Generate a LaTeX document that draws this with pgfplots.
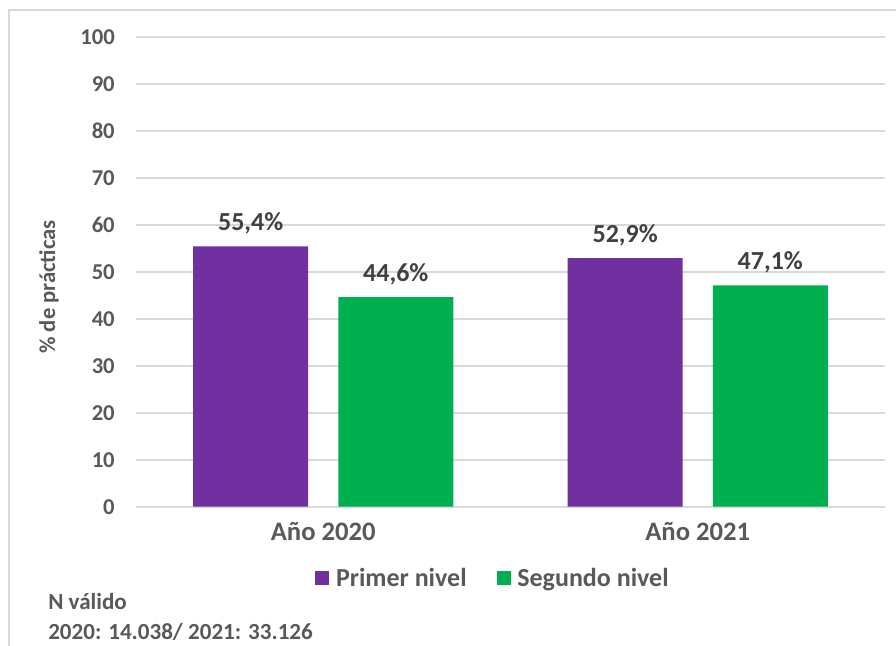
\documentclass[border=0pt]{standalone}
\usepackage{pgfplots}
\pgfplotsset{compat=1.18}
\usepackage{fontspec}
\setmainfont{Carlito}
\definecolor{prim}{HTML}{7030A0}
\definecolor{seg}{HTML}{00B050}
\definecolor{txt}{HTML}{595959}
\definecolor{lbl}{HTML}{404040}
\definecolor{gridc}{HTML}{D9D9D9}
\begin{document}
\begin{tikzpicture}
\begin{axis}[
  at={(102pt,104.5pt)}, anchor=south west,
  scale only axis, width=561.75pt, height=352.5pt,
  xmin=0, xmax=2, ymin=0, ymax=100,
  ybar, bar width=86.25pt,
  axis line style={draw=none},
  major tick length=0pt,
  ymajorgrids, grid style={draw=gridc, line width=1.3pt},
  ytick={0,10,...,100},
  xtick={0.5,1.5}, xticklabels={Año 2020, Año 2021},
  /pgf/number format/assume math mode=true,
  yticklabel style={font=\fontsize{17}{20}\selectfont\bfseries, text=txt, anchor=east, inner sep=0pt, xshift=-15.75pt},
  xticklabel style={font=\fontsize{20}{24}\selectfont\bfseries, text=txt, anchor=base, inner sep=0pt, yshift=-25.7pt},
  nodes near coords, point meta=explicit symbolic,
  every node near coord/.append style={font=\fontsize{19.5}{22}\selectfont\bfseries, text=lbl, anchor=base, inner sep=0pt, yshift=12pt},
  legend style={at={(0.4753,-0.1517)}, anchor=center, draw=none, fill=none,
    legend columns=2, font=\fontsize{19.5}{23}\selectfont\bfseries, text=txt,
    nodes={inner sep=0pt},
    /tikz/every even column/.append style={column sep=22.5pt}},
  legend image code/.code={\fill[#1,draw=none] (0pt,-5pt) rectangle (10.5pt,5.5pt); \path (15.5pt,0pt);},
]
\addplot[fill=prim, draw=none, bar shift=-54.4pt] coordinates {(0.5,55.4) [55,4\%] (1.5,52.9) [52,9\%]};
\addplot[fill=seg, draw=none, bar shift=54.4pt] coordinates {(0.5,44.6) [44,6\%] (1.5,47.1) [47,1\%]};
\legend{Primer nivel, Segundo nivel}
\end{axis}
\draw[gridc, line width=1.3pt] (6.75pt,0pt) -- (6.75pt,477pt) -- (672pt,477pt);
\node[rotate=90, anchor=center, font=\fontsize{17}{20}\selectfont\bfseries, text=txt] at (36.75pt,269.25pt) {\% de prácticas};
\node[anchor=base west, inner sep=0pt, font=\fontsize{17.3}{20}\selectfont\bfseries, text=txt] at (36pt,27pt) {N válido};
\node[anchor=base west, inner sep=0pt, font=\fontsize{17.3}{20}\selectfont\bfseries, text=txt] at (36pt,5.25pt) {2020: 14.038/ 2021: 33.126};
\pgfresetboundingbox
\path[use as bounding box] (0pt,0pt) rectangle (672pt,484.5pt);
\end{tikzpicture}
\end{document}
